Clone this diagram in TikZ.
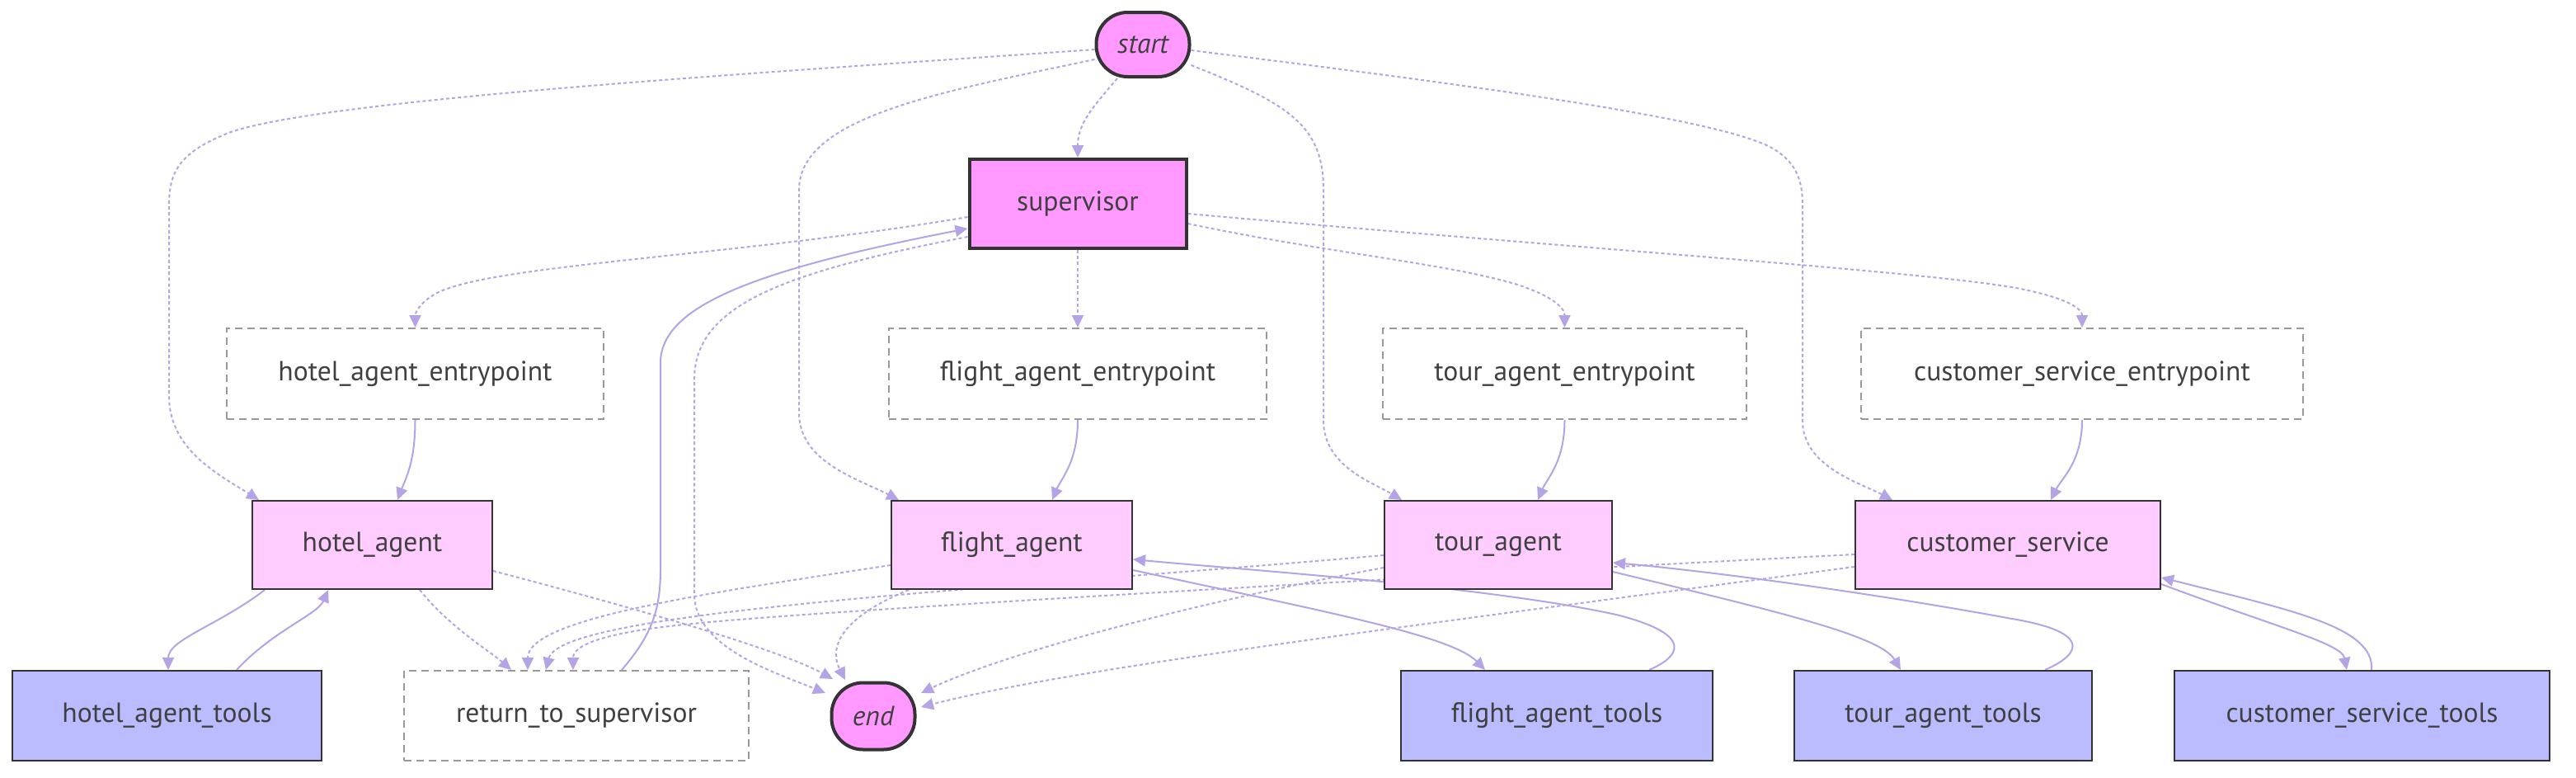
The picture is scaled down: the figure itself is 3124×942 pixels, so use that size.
\documentclass[tikz,border=0pt]{standalone}
\usepackage{fontspec}
\setmainfont{PT Sans}
\usetikzlibrary{arrows.meta,calc}
\pgfdeclarelayer{bg}
\pgfsetlayers{bg,main}
\definecolor{edgec}{RGB}{181,164,229}
\definecolor{txt}{HTML}{404040}
\definecolor{hot}{HTML}{FF99FF}
\definecolor{agentfill}{HTML}{FFCCFF}
\definecolor{toolfill}{HTML}{BBBBFF}
\definecolor{bord}{HTML}{333333}
\definecolor{entryc}{HTML}{999999}
\begin{document}
\begin{tikzpicture}[x=0.5pt,y=-0.5pt,
 base/.style={rectangle, inner sep=0pt, text=txt, font=\fontsize{16.8}{20}\selectfont},
 term/.style={base, fill=hot, draw=bord, line width=2pt, rounded corners=19pt, font=\fontsize{16.8}{20}\selectfont\itshape},
 sup/.style={base, fill=hot, draw=bord, line width=2pt},
 agentbox/.style={base, fill=agentfill, draw=bord, line width=1pt, minimum height=53.5pt},
 toolbox/.style={base, fill=toolfill, draw=bord, line width=1pt, minimum height=54.5pt},
 entrybox/.style={base, fill=white, draw=entryc, line width=1pt, dash pattern=on 4.5pt off 3pt},
 flow/.style={draw=edgec, line width=1pt, -{Triangle[length=7.5pt,width=7pt]}},
 cond/.style={flow, dash pattern=on 2pt off 1.6pt},
]
\begin{pgfonlayer}{bg}
\fill[white] (0,0) rectangle (3124,942);
\end{pgfonlayer}
\useasboundingbox (0,0) rectangle (3124,942);

% nodes
\node[term, minimum width=56.5pt, minimum height=39pt] (start) at (1386,54) {start};
\node[sup, minimum width=131.5pt, minimum height=54pt] (supervisor) at (1307,247) {supervisor};
\node[entrybox, minimum width=228.5pt, minimum height=55pt] (hae) at (503.5,453) {hotel\_agent\_entrypoint};
\node[entrybox, minimum width=229pt, minimum height=55pt] (fae) at (1307,453) {flight\_agent\_entrypoint};
\node[entrybox, minimum width=220.5pt, minimum height=55pt] (tae) at (1897.5,453) {tour\_agent\_entrypoint};
\node[entrybox, minimum width=268pt, minimum height=55pt] (cse) at (2525,453) {customer\_service\_entrypoint};
\node[agentbox, minimum width=145.5pt] (ha) at (451.5,660.5) {hotel\_agent};
\node[agentbox, minimum width=146pt] (fa) at (1227,660.5) {flight\_agent};
\node[agentbox, minimum width=138pt] (ta) at (1817,660.5) {tour\_agent};
\node[agentbox, minimum width=185pt] (cs) at (2435,660.5) {customer\_service};
\node[toolbox, minimum width=187.5pt] (hat) at (202.5,867.5) {hotel\_agent\_tools};
\node[entrybox, minimum width=209pt, minimum height=54.5pt] (rts) at (699,867.5) {return\_to\_supervisor};
\node[term, minimum width=50.5pt, minimum height=40.5pt] (end) at (1059,868) {end};
\node[toolbox, minimum width=189pt] (fat) at (1888,867.5) {flight\_agent\_tools};
\node[toolbox, minimum width=180.5pt] (tat) at (2356.5,867.5) {tour\_agent\_tools};
\node[toolbox, minimum width=227.5pt] (cst) at (2864.5,867.5) {customer\_service\_tools};

\begin{pgfonlayer}{bg}
% from start
\draw[cond] (start.south -| 1355,0) .. controls (1325,130) and (1307,150) .. (supervisor.north);
\draw[cond] (start.west |- 0,60) .. controls (900,90) and (400,120) .. (280,160) .. controls (215,185) and (205,210) .. (205,250) -- (205,480) .. controls (205,545) and (265,575) .. (ha.north -| 314,0);
\draw[cond] (start.west |- 0,72) .. controls (1150,110) and (969,140) .. (969,230) -- (969,500) .. controls (969,560) and (1040,580) .. (fa.north -| 1090,0);
\draw[cond] (start.east |- 0,79) .. controls (1560,125) and (1605,150) .. (1605,230) -- (1605,510) .. controls (1605,565) and (1665,585) .. (ta.north -| 1700,0);
\draw[cond] (start.east |- 0,61) .. controls (1800,105) and (2090,145) .. (2150,180) .. controls (2180,198) and (2186,220) .. (2186,250) -- (2186,510) .. controls (2186,565) and (2255,585) .. (cs.north -| 2295,0);
% from supervisor
\draw[cond] (supervisor.west |- 0,263) .. controls (900,310) and (600,320) .. (530,355) .. controls (508,367) and (503.5,380) .. (hae.north);
\draw[cond] (supervisor.south) -- (fae.north);
\draw[cond] (supervisor.east |- 0,271) .. controls (1600,305) and (1760,320) .. (1840,345) .. controls (1880,358) and (1897.5,372) .. (tae.north);
\draw[cond] (supervisor.east |- 0,259) .. controls (1900,300) and (2350,330) .. (2450,350) .. controls (2510,362) and (2525,375) .. (cse.north);
\draw[cond] (supervisor.west |- 0,287) .. controls (950,330) and (842,370) .. (842,460) -- (842,720) .. controls (842,785) and (940,815) .. ($(end.center)+(-58,-28)$);
% return to supervisor
\draw[flow] (rts.north -| 754,0) .. controls (790,770) and (801,740) .. (801,690) -- (801,440) .. controls (801,375) and (900,330) .. (supervisor.west |- 0,277);
% entrypoints to agents
\draw[flow] (hae.south) .. controls (503.5,560) and (492,580) .. (ha.north -| 482,0);
\draw[flow] (fae.south) .. controls (1307,560) and (1287,580) .. (fa.north -| 1276,0);
\draw[flow] (tae.south) .. controls (1897.5,560) and (1876,580) .. (ta.north -| 1865,0);
\draw[flow] (cse.south) .. controls (2525,560) and (2500,580) .. (cs.north -| 2487,0);
% hotel agent
\draw[flow] (ha.south -| 321,0) .. controls (265,758) and (204,775) .. (hat.north -| 204,0);
\draw[flow] (hat.north -| 287,0) .. controls (330,765) and (385,745) .. (ha.south -| 398,0);
\draw[cond] (ha.south -| 509,0) .. controls (545,760) and (595,790) .. (rts.north -| 620,0);
\draw[cond] (ha.east |- 0,692) .. controls (800,745) and (950,790) .. ($(end.center)+(-49,-45)$);
% flight agent
\draw[cond] (fa.west |- 0,685) .. controls (850,720) and (640,750) .. (rts.north -| 640,0);
\draw[cond] (fa.south -| 1102,0) .. controls (1040,740) and (1000,775) .. ($(end.center)+(-34,-44)$);
\draw[flow] (fa.east |- 0,691) .. controls (1600,740) and (1760,770) .. (fat.north -| 1801,0);
\draw[flow] (fat.north -| 2000,0) .. controls (2050,790) and (2040,765) .. (1960,745) .. controls (1800,710) and (1500,690) .. (fa.east |- 0,678);
% tour agent
\draw[cond] (ta.west |- 0,673) .. controls (1200,715) and (680,740) .. (rts.north -| 662,0);
\draw[cond] (ta.west |- 0,688) .. controls (1400,740) and (1200,800) .. ($(end.center)+(58,-28)$);
\draw[flow] (ta.east |- 0,693) .. controls (2150,740) and (2280,770) .. (tat.north -| 2305,0);
\draw[flow] (tat.north -| 2480,0) .. controls (2530,790) and (2530,765) .. (2440,750) .. controls (2250,715) and (2050,690) .. (ta.east |- 0,682);
% customer service
\draw[cond] (cs.west |- 0,672) .. controls (1700,700) and (1000,740) .. (850,755) .. controls (740,765) and (695,780) .. (rts.north -| 695,0);
\draw[cond] (cs.west |- 0,687) .. controls (1700,760) and (1300,810) .. ($(end.center)+(58,-11)$);
\draw[flow] (cs.east |- 0,708) .. controls (2760,760) and (2840,780) .. (cst.north -| 2846,0);
\draw[flow] (cst.north -| 2876,0) .. controls (2880,760) and (2780,740) .. (cs.east |- 0,700);
\end{pgfonlayer}
\end{tikzpicture}
\end{document}
